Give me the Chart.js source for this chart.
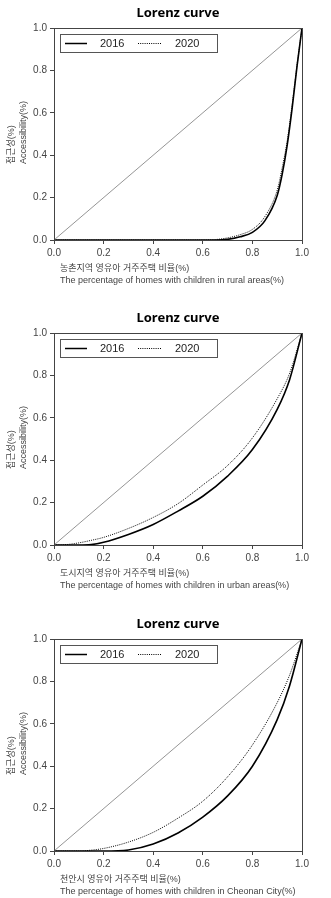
<!DOCTYPE html>
<html>
<head>
<meta charset="utf-8">
<script src="https://cdn.jsdelivr.net/npm/chart.js@4"></script>
<style>
  html, body { margin: 0; padding: 0; background: #fff; overflow: hidden; }
  .panel { position: absolute; left: 0; width: 331px; height: 300px; }
</style>
</head>
<body>
<div class="panel" style="top:0px"><canvas id="g1" width="331" height="300"></canvas></div>
<div class="panel" style="top:305px"><canvas id="g2" width="331" height="300"></canvas></div>
<div class="panel" style="top:611px"><canvas id="g3" width="331" height="300"></canvas></div>
<script>
// Datos
const anios = ['2016', '2020'];
const ejeTicks = [0, 0.2, 0.4, 0.6, 0.8, 1.0];

// Panel 1: zonas rurales
const xRural = [0, 0.6, 0.65, 0.7, 0.75, 0.8, 0.85, 0.9, 0.92, 0.94, 0.96, 0.98, 1];
const rural2016 = [0, 0, 0, 0.003, 0.015, 0.036, 0.09, 0.21, 0.31, 0.445, 0.62, 0.82, 1];
const rural2020 = [0, 0, 0.002, 0.01, 0.025, 0.05, 0.11, 0.235, 0.34, 0.465, 0.635, 0.825, 1];

// Panel 2: zonas urbanas
const xUrbano = [0, 0.05, 0.1, 0.15, 0.2, 0.3, 0.4, 0.5, 0.6, 0.7, 0.8, 0.9, 0.95, 1];
const urbano2016 = [0, 0, 0, 0.002, 0.013, 0.05, 0.097, 0.16, 0.23, 0.325, 0.45, 0.64, 0.78, 1];
const urbano2020 = [0, 0.002, 0.01, 0.022, 0.036, 0.078, 0.13, 0.195, 0.283, 0.375, 0.505, 0.69, 0.81, 1];

// Panel 3: ciudad de Cheonan
const xCheonan = [0, 0.05, 0.1, 0.15, 0.2, 0.3, 0.4, 0.5, 0.6, 0.7, 0.8, 0.9, 0.95, 1];
const cheonan2016 = [0, 0, 0, 0, 0, 0.005, 0.033, 0.085, 0.16, 0.26, 0.40, 0.62, 0.78, 1];
const cheonan2020 = [0, 0, 0, 0.004, 0.012, 0.042, 0.088, 0.155, 0.235, 0.35, 0.50, 0.70, 0.83, 1];

const igualdad = [0, 1];

const ejeY = ['접근성(%)', 'Accessibility(%)'];
const ejeX1 = ['농촌지역 영유아 거주주택 비율(%)', 'The percentage of homes with children in rural areas(%)'];
const ejeX2 = ['도시지역 영유아 거주주택 비율(%)', 'The percentage of homes with children in urban areas(%)'];
const ejeX3 = ['천안시 영유아 거주주택 비율(%)', 'The percentage of homes with children in Cheonan City(%)'];

const fuente = "'Liberation Sans', Arial, 'Noto Sans CJK KR', sans-serif";
const gris = '#444';

function puntos(xs, ys) {
    return xs.map((x, i) => ({ x: x, y: ys[i] }));
}

// Plugin: marco, titulo, etiquetas de ejes y leyenda
const decoracion = {
    id: 'decoracion',
    afterDraw(chart, args, opts) {
        const ctx = chart.ctx;
        const a = chart.chartArea;
        ctx.save();
        // marco
        ctx.strokeStyle = '#444';
        ctx.lineWidth = 1;
        ctx.strokeRect(Math.round(a.left) + 0.5, Math.round(a.top) + 0.5,
            Math.round(a.right - a.left), Math.round(a.bottom - a.top));
        // titulo
        ctx.fillStyle = '#000';
        ctx.font = "bold 13px 'Noto Sans', 'Noto Sans CJK KR', sans-serif";
        ctx.textAlign = 'center';
        ctx.textBaseline = 'middle';
        ctx.fillText('Lorenz curve', (a.left + a.right) / 2, 13);
        // eje x
        ctx.fillStyle = gris;
        ctx.font = '9px ' + fuente;
        ctx.textAlign = 'left';
        ctx.fillText(opts.ejeX[0], a.left + 6, a.bottom + 28.5);
        ctx.fillText(opts.ejeX[1], a.left + 6, a.bottom + 40.5);
        // eje y
        ctx.save();
        ctx.translate(0, a.top + 136);
        ctx.rotate(-Math.PI / 2);
        ctx.fillText(ejeY[0], 0, 12);
        ctx.fillText(ejeY[1], 0, 24);
        ctx.restore();
        // leyenda
        const lx = a.left + 6, ly = a.top + 6;
        ctx.strokeStyle = '#555';
        ctx.lineWidth = 1;
        ctx.strokeRect(Math.round(lx) + 0.5, Math.round(ly) + 0.5, 157, 18);
        const my = Math.round(ly + 9) + 0.5;
        ctx.strokeStyle = '#000';
        ctx.lineWidth = 1.5;
        ctx.beginPath(); ctx.moveTo(lx + 5, my); ctx.lineTo(lx + 27, my); ctx.stroke();
        ctx.lineWidth = 1;
        ctx.setLineDash([1, 1.2]);
        ctx.beginPath(); ctx.moveTo(lx + 78, my); ctx.lineTo(lx + 101, my); ctx.stroke();
        ctx.setLineDash([]);
        ctx.fillStyle = '#222';
        ctx.font = '11px ' + fuente;
        ctx.textAlign = 'left';
        ctx.fillText(anios[0], lx + 40, my + 0.5);
        ctx.fillText(anios[1], lx + 115, my + 0.5);
        ctx.restore();
    }
};

function crearGrafico(id, xs, s2016, s2020, ejeX) {
    const escala = {
        type: 'linear',
        min: 0,
        max: 1,
        border: { display: true, color: '#444' },
        grid: { drawOnChartArea: false, drawTicks: true, tickLength: 4, color: '#444' },
        afterBuildTicks: (s) => { s.ticks = ejeTicks.map(v => ({ value: v })); },
        ticks: {
            color: gris,
            font: { family: fuente, size: 10 },
            padding: 3,
            maxRotation: 0,
            callback: (v) => Number(v).toFixed(1)
        }
    };
    return new Chart(document.getElementById(id), {
        type: 'line',
        data: {
            datasets: [
                {
                    label: 'igualdad',
                    data: puntos(igualdad, igualdad),
                    borderColor: '#7a7a7a',
                    borderWidth: 0.8,
                    pointRadius: 0
                },
                {
                    label: anios[0],
                    data: puntos(xs, s2016),
                    borderColor: '#000',
                    borderWidth: 1.6,
                    pointRadius: 0,
                    cubicInterpolationMode: 'monotone'
                },
                {
                    label: anios[1],
                    data: puntos(xs, s2020),
                    borderColor: '#000',
                    borderWidth: 1,
                    borderDash: [1, 1.2],
                    pointRadius: 0,
                    cubicInterpolationMode: 'monotone'
                }
            ]
        },
        options: {
            responsive: false,
            animation: false,
            layout: { padding: { top: 28, right: 29, bottom: 0, left: 0 } },
            plugins: {
                legend: { display: false },
                tooltip: { enabled: false },
                decoracion: { ejeX: ejeX }
            },
            scales: {
                x: Object.assign({}, escala, {
                    afterFit: (s) => { s.height = 60; }
                }),
                y: Object.assign({}, escala, {
                    afterFit: (s) => { s.width = 54; }
                })
            }
        },
        plugins: [decoracion]
    });
}

crearGrafico('g1', xRural, rural2016, rural2020, ejeX1);
crearGrafico('g2', xUrbano, urbano2016, urbano2020, ejeX2);
crearGrafico('g3', xCheonan, cheonan2016, cheonan2020, ejeX3);
</script>
</body>
</html>
